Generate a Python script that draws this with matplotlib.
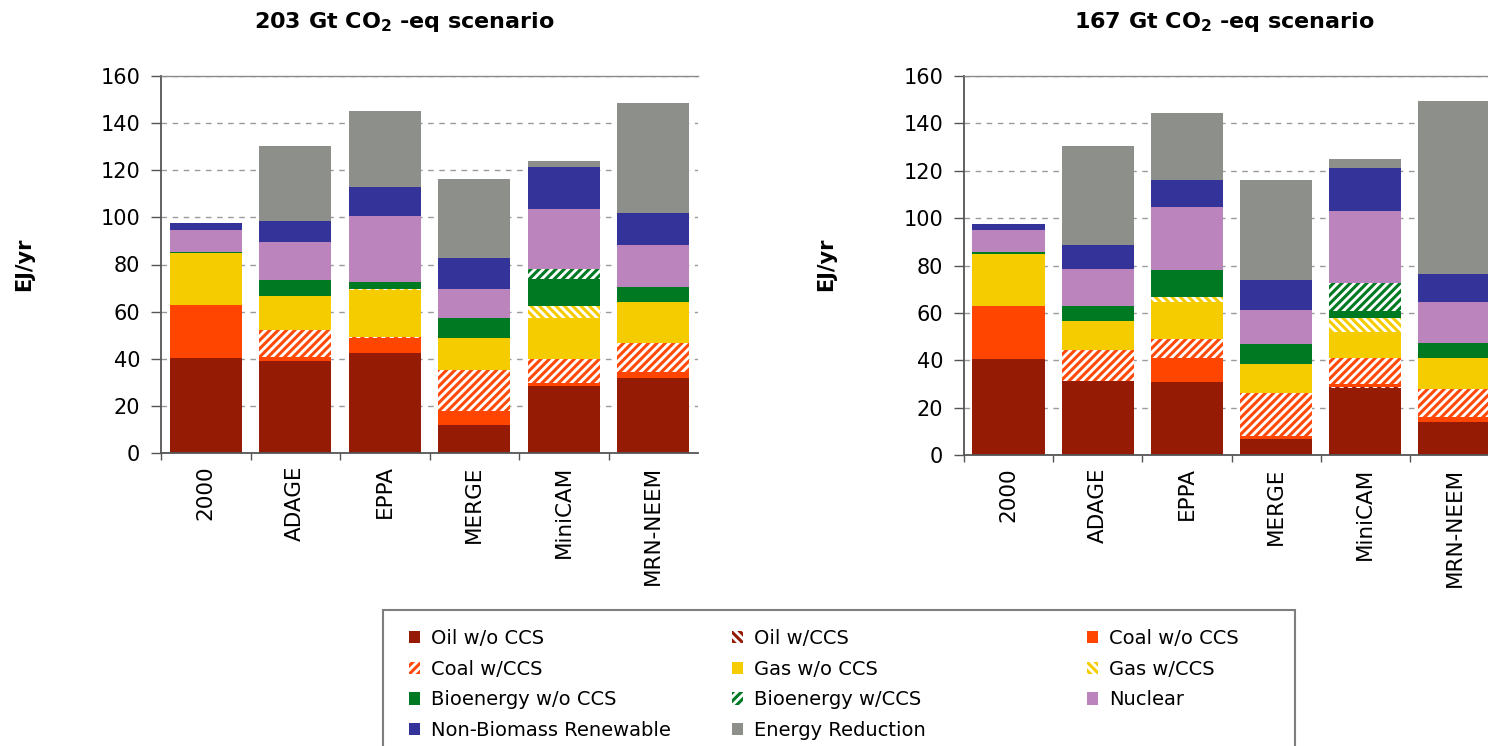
import numpy as np
import matplotlib
matplotlib.use("Agg")
import matplotlib.pyplot as plt
from matplotlib.patches import Patch, Rectangle

models = ['2000', 'ADAGE', 'EPPA', 'MERGE', 'MiniCAM', 'MRN-NEEM']

series_names = ['Oil w/o CCS', 'Oil w/CCS', 'Coal w/o CCS', 'Coal w/CCS',
                'Gas w/o CCS', 'Gas w/CCS', 'Bioenergy w/o CCS', 'Bioenergy w/CCS',
                'Nuclear', 'Non-Biomass Renewable', 'Energy Reduction']

# 203 Gt CO2-eq scenario (EJ/yr)
oil_wo_203 = [40.2, 39.2, 42.6, 12.0, 28.5, 31.8]
oil_w_203 = [0.0, 0.0, 0.0, 0.0, 0.0, 0.0]
coal_wo_203 = [22.6, 1.4, 6.1, 6.0, 1.4, 2.7]
coal_w_203 = [0.0, 11.4, 0.6, 17.2, 10.2, 12.0]
gas_wo_203 = [22.1, 14.5, 19.7, 13.5, 17.2, 17.6]
gas_w_203 = [0.0, 0.0, 0.6, 0.0, 5.0, 0.0]
bio_wo_203 = [0.5, 7.0, 2.8, 8.4, 11.4, 6.3]
bio_w_203 = [0.0, 0.0, 0.0, 0.0, 4.2, 0.0]
nuclear_203 = [9.4, 16.0, 28.2, 12.5, 25.6, 17.8]
renew_203 = [2.7, 8.9, 12.1, 13.1, 17.9, 13.6]
reduction_203 = [0.0, 31.9, 32.3, 33.6, 2.5, 46.7]

# 167 Gt CO2-eq scenario (EJ/yr)
oil_wo_167 = [40.4, 31.3, 31.0, 6.6, 28.2, 13.8]
oil_w_167 = [0.0, 0.0, 0.0, 0.0, 0.6, 0.0]
coal_wo_167 = [22.7, 0.0, 9.8, 1.4, 1.1, 2.1]
coal_w_167 = [0.0, 13.2, 8.1, 18.3, 11.2, 12.1]
gas_wo_167 = [21.6, 12.0, 15.7, 12.0, 10.9, 12.8]
gas_w_167 = [0.0, 0.0, 1.9, 0.0, 6.0, 0.0]
bio_wo_167 = [1.0, 6.3, 11.4, 8.5, 3.0, 6.4]
bio_w_167 = [0.0, 0.0, 0.0, 0.0, 11.8, 0.0]
nuclear_167 = [9.4, 15.8, 26.6, 14.6, 30.0, 17.2]
renew_167 = [2.6, 9.9, 11.6, 12.4, 18.5, 11.9]
reduction_167 = [0.0, 41.9, 28.4, 42.1, 3.6, 73.0]

y_ticks = [0, 20, 40, 60, 80, 100, 120, 140, 160]

data_203 = [oil_wo_203, oil_w_203, coal_wo_203, coal_w_203, gas_wo_203, gas_w_203,
            bio_wo_203, bio_w_203, nuclear_203, renew_203, reduction_203]
data_167 = [oil_wo_167, oil_w_167, coal_wo_167, coal_w_167, gas_wo_167, gas_w_167,
            bio_wo_167, bio_w_167, nuclear_167, renew_167, reduction_167]

# style: (color, hatch)
styles = [('#951B04', None), ('#951B04', '\\\\\\\\'), ('#FF4500', None), ('#FF4A0A', '////'),
          ('#F5CC00', None), ('#F5CC00', '\\\\\\\\'), ('#007A22', None), ('#007A22', '////'),
          ('#BC84BD', None), ('#333399', None), ('#8C8F8A', None)]

plt.rcParams['hatch.linewidth'] = 2.2
plt.rcParams['font.family'] = ['DejaVu Sans']

W, H = 1488, 746
fig = plt.figure(figsize=(W / 100, H / 100), dpi=100)

axL = fig.add_axes([161 / W, 293 / H, 537 / W, 377 / H])
axR = fig.add_axes([964 / W, 291 / H, 535 / W, 379 / H])

x = np.arange(len(models))
for ax, data in ((axL, data_203), (axR, data_167)):
    bottom = np.zeros(len(models))
    for vals, (col, hatch) in zip(data, styles):
        vals = np.array(vals)
        if hatch is None:
            ax.bar(x, vals, 0.81, bottom=bottom, color=col, linewidth=0, zorder=2)
        else:
            ax.bar(x, vals, 0.81, bottom=bottom, facecolor='white', edgecolor=col,
                   hatch=hatch, linewidth=0, zorder=2)
        bottom += vals
    ax.set_xlim(-0.5, 5.5)
    ax.set_ylim(0, 160)
    ax.set_yticks(y_ticks)
    ax.tick_params(axis='y', direction='out', length=7, width=1, color='#555555',
                   labelsize=15, pad=8)
    ax.set_xticks(np.arange(-0.5, 5.0, 1.0))
    ax.set_xticklabels([])
    ax.tick_params(axis='x', which='major', direction='out', length=5, width=1, color='#555555')
    ax.set_xticks(x, minor=True)
    ax.set_xticklabels(models, minor=True, rotation=90, fontsize=15.5, va='top')
    ax.tick_params(axis='x', which='minor', length=0, pad=9)
    ax.yaxis.grid(True, linestyle=(0, (4, 4)), color='#9a9a9a', linewidth=1)
    ax.set_axisbelow(True)
    for s in ('left', 'bottom'):
        ax.spines[s].set_color('#555555')
        ax.spines[s].set_linewidth(1.3)
    ax.spines['top'].set_color('#8a8a8a')
    ax.spines['top'].set_linewidth(1.0)
    ax.spines['right'].set_visible(False)

fig.text(404 / W, 1 - 22 / H, r'203 Gt CO$_\mathbf{2}$ -eq scenario', ha='center', va='center',
         fontsize=16, fontweight='bold')
fig.text(1224 / W, 1 - 22 / H, r'167 Gt CO$_\mathbf{2}$ -eq scenario', ha='center', va='center',
         fontsize=16, fontweight='bold')
fig.text(24 / W, 1 - 264 / H, 'EJ/yr', rotation=90, ha='center', va='center',
         fontsize=15, fontweight='bold')
fig.text(826 / W, 1 - 264 / H, 'EJ/yr', rotation=90, ha='center', va='center',
         fontsize=15, fontweight='bold')

# legend frame
fig.add_artist(Rectangle((383 / W, -20 / H), (1295 - 383) / W, (136 + 20) / H,
                         transform=fig.transFigure, fill=False, edgecolor='#7f7f7f',
                         linewidth=1.5))

handles = []
for name, (col, hatch) in zip(series_names, styles):
    if hatch is None:
        handles.append(Patch(facecolor=col, edgecolor=col, linewidth=0, label=name))
    else:
        handles.append(Patch(facecolor='white', edgecolor=col, hatch=hatch, linewidth=0, label=name))

cols = [[0, 3, 6, 9], [1, 4, 7, 10], [2, 5, 8]]
col_x = [409, 732, 1087]
for idxs, cx in zip(cols, col_x):
    leg = fig.legend([handles[i] for i in idxs], [series_names[i] for i in idxs],
                     loc='upper left', bbox_to_anchor=(cx / W, 1 - 629 / H),
                     frameon=False, fontsize=14, borderpad=0, borderaxespad=0,
                     handlelength=0.55, handleheight=0.6, handletextpad=0.6,
                     labelspacing=0.6)

fig.savefig('out.png', dpi=100)
